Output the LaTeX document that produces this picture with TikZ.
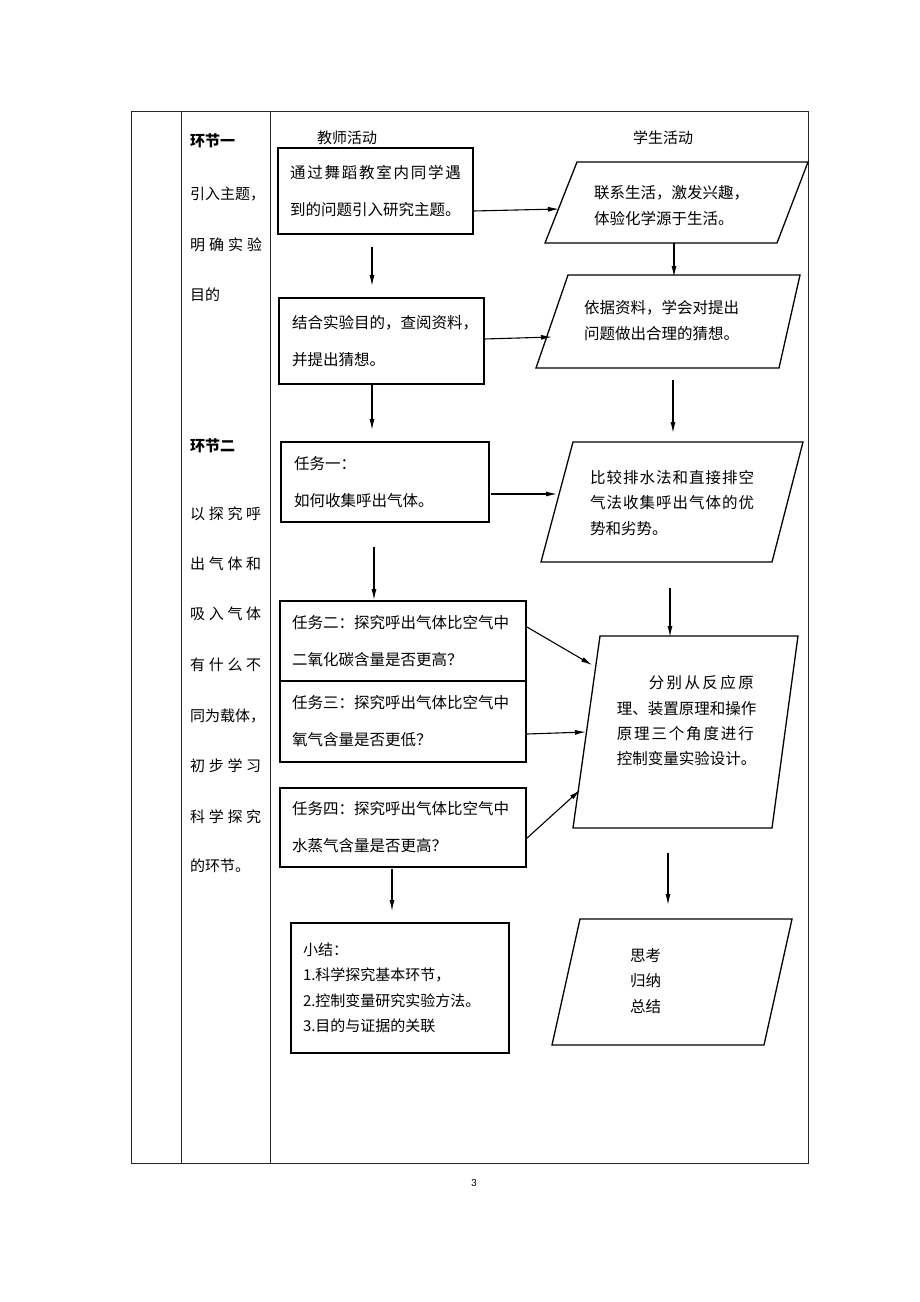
\documentclass[tikz,border=0pt]{standalone}
\usepackage{fontspec}
\setmainfont{Noto Sans CJK SC}
\newfontfamily\carlito{Carlito}
\usetikzlibrary{arrows.meta}
\makeatletter
\def\sline#1#2{\makebox[#1][s]{\sl@first#2\relax}}
\def\sl@first#1{#1\sl@aux}
\def\sl@aux#1{\ifx\relax#1\else\hfil#1\expandafter\sl@aux\fi}
\makeatother
\begin{document}
\begin{tikzpicture}[x=1pt,y=-1pt,
  tbl/.style={line width=0.8pt, draw=black!85},
  box/.style={draw, line width=1.3pt, inner sep=0pt, align=left},
  para/.style={draw, line width=1.3pt, line join=miter},
  arr/.style={line width=1.1pt, -{Latex[length=11pt,width=5pt]}},
  txt/.style={inner sep=0pt, font=\fontsize{15}{18}\selectfont},
  ltxt/.style={inner sep=0pt, anchor=west, font=\fontsize{15}{18}\selectfont},
  f37/.style={font=\fontsize{15.5}{37}\selectfont},
  f25/.style={font=\fontsize{15.5}{25.3}\selectfont}]
\useasboundingbox (0,0) rectangle (920,1302);
% table
\draw[tbl] (131,111) rectangle (808,1163);
\draw[tbl] (181,111) -- (181,1163);
\draw[tbl] (270,111) -- (270,1163);
% left column
\node[ltxt] (l1) at (190,141) {\bfseries 环节一};
\node[ltxt] (l2) at (190,194) {引入主题，};
\node[ltxt] (l3) at (190,245) {\sline{72pt}{明确实验}};
\node[ltxt] (l4) at (190,295) {目的};
\node[ltxt] (l5) at (190,446) {\bfseries 环节二};
\node[ltxt] (l6) at (190,514) {\sline{71pt}{以探究呼}};
\node[ltxt] (l7) at (190,564) {\sline{71pt}{出气体和}};
\node[ltxt] (l8) at (190,614) {\sline{71pt}{吸入气体}};
\node[ltxt] (l9) at (190,665) {\sline{71pt}{有什么不}};
\node[ltxt] (l10) at (190,716) {同为载体，};
\node[ltxt] (l11) at (190,766) {\sline{71pt}{初步学习}};
\node[ltxt] (l12) at (190,817) {\sline{71pt}{科学探究}};
\node[ltxt] (l13) at (190,866) {的环节。};
% headers
\node[txt] (hT) at (347,138) {教师活动};
\node[txt] (hS) at (663,138) {学生活动};
% teacher boxes
\node[box, f37, minimum width=195pt, minimum height=86pt, text width=171pt] (t1) at (375.5,191)
  {\sline{171pt}{通过舞蹈教室内同学遇}\\到的问题引入研究主题。};
\node[box, f37, minimum width=205pt, minimum height=86pt, text width=179pt] (t2) at (381.5,341)
  {结合实验目的，查阅资料，\\并提出猜想。};
\node[box, f37, minimum width=208pt, minimum height=80pt, text width=182pt] (t3) at (385,482)
  {任务一：\\如何收集呼出气体。};
\node[box, f37, minimum width=246pt, minimum height=80pt, text width=222pt] (t4) at (403,641)
  {任务二：探究呼出气体比空气中\\二氧化碳含量是否更高？};
\node[box, f37, minimum width=246pt, minimum height=81pt, text width=222pt] (t5) at (403,721.5)
  {任务三：探究呼出气体比空气中\\氧气含量是否更低？};
\node[box, f37, minimum width=246pt, minimum height=79pt, text width=222pt] (t6) at (403,827.5)
  {任务四：探究呼出气体比空气中\\水蒸气含量是否更高？};
\node[box, minimum width=218pt, minimum height=130pt] (t7) at (400,988)
  {\raisebox{7pt}{\parbox{194pt}{\fontsize{15}{25.5}\selectfont 小结：\\1.科学探究基本环节，\\2.控制变量研究实验方法。\\3.目的与证据的关联}}};
% student parallelograms
\coordinate (s1tl) at (577,162); \coordinate (s1tr) at (808,162);
\coordinate (s1br) at (777,243); \coordinate (s1bl) at (545,243);
\draw[para] (s1tl) -- (s1tr) -- (s1br) -- (s1bl) -- cycle;
\node[ltxt, align=left, font=\fontsize{15.5}{26}\selectfont] (s1) at (594,206)
  {联系生活，激发兴趣，\\体验化学源于生活。};
\coordinate (s2tl) at (568,275); \coordinate (s2tr) at (800,275);
\coordinate (s2br) at (779,368); \coordinate (s2bl) at (536,368);
\draw[para] (s2tl) -- (s2tr) -- (s2br) -- (s2bl) -- cycle;
\node[ltxt, align=left, f25] (s2) at (584,320.5)
  {依据资料，学会对提出\\问题做出合理的猜想。};
\coordinate (s3tl) at (573,442); \coordinate (s3tr) at (803,442);
\coordinate (s3br) at (772,562); \coordinate (s3bl) at (541,562);
\draw[para] (s3tl) -- (s3tr) -- (s3br) -- (s3bl) -- cycle;
\node[ltxt, align=left, f25] (s3) at (590,503)
  {\sline{164pt}{比较排水法和直接排空}\\\sline{164pt}{气法收集呼出气体的优}\\势和劣势。};
\coordinate (s4tl) at (600,636); \coordinate (s4tr) at (798,636);
\coordinate (s4br) at (772,828); \coordinate (s4bl) at (573,828);
\draw[para] (s4tl) -- (s4tr) -- (s4br) -- (s4bl) -- cycle;
\node[inner sep=0pt, anchor=east, align=right, text width=137pt, f25] (s4) at (754,721)
  {\sline{105pt}{分别从反应原}\\\sline{137pt}{理、装置原理和操作}\\\sline{137pt}{原理三个角度进行}\\\sline{137pt}{控制变量实验设计。}};
\coordinate (s5tl) at (580,919); \coordinate (s5tr) at (792,919);
\coordinate (s5br) at (764,1045); \coordinate (s5bl) at (552,1045);
\draw[para] (s5tl) -- (s5tr) -- (s5br) -- (s5bl) -- cycle;
\node[ltxt, align=left, f25] (s5) at (630,981) {思考\\归纳\\总结};
% connector end points
\coordinate (a1s) at (473,211);   \coordinate (a1e) at (559,209);
\coordinate (a2s) at (372,247);   \coordinate (a2e) at (372,286);
\coordinate (a3s) at (674,243);   \coordinate (a3e) at (674,277);
\coordinate (a4s) at (484,339);   \coordinate (a4e) at (552,337);
\coordinate (a5s) at (372,384);   \coordinate (a5e) at (372,430);
\coordinate (a6s) at (673,380);   \coordinate (a6e) at (673,433);
\coordinate (a7s) at (491,494);   \coordinate (a7e) at (557,494);
\coordinate (a8s) at (374,547);   \coordinate (a8e) at (374,600);
\coordinate (a9s) at (670,588);   \coordinate (a9e) at (670,637);
\coordinate (a10s) at (527,627);  \coordinate (a10e) at (592,665);
\coordinate (a11s) at (527,734);  \coordinate (a11e) at (586,732);
\coordinate (a12s) at (526,839);  \coordinate (a12e) at (580,790);
\coordinate (a13s) at (392,869);  \coordinate (a13e) at (392,911);
\coordinate (a14s) at (668,853);  \coordinate (a14e) at (668,905);
\draw[arr] (a1s) -- (a1e);
\draw[arr] (a2s) -- (a2e);
\draw[arr] (a3s) -- (a3e);
\draw[arr] (a4s) -- (a4e);
\draw[arr] (a5s) -- (a5e);
\draw[arr] (a6s) -- (a6e);
\draw[arr] (a7s) -- (a7e);
\draw[arr] (a8s) -- (a8e);
\draw[arr] (a9s) -- (a9e);
\draw[arr] (a10s) -- (a10e);
\draw[arr] (a11s) -- (a11e);
\draw[arr] (a12s) -- (a12e);
\draw[arr] (a13s) -- (a13e);
\draw[arr] (a14s) -- (a14e);
% page number
\node[inner sep=0pt, font=\carlito\fontsize{11}{13}\selectfont] (pg) at (474,1183) {3};
\end{tikzpicture}
\end{document}
